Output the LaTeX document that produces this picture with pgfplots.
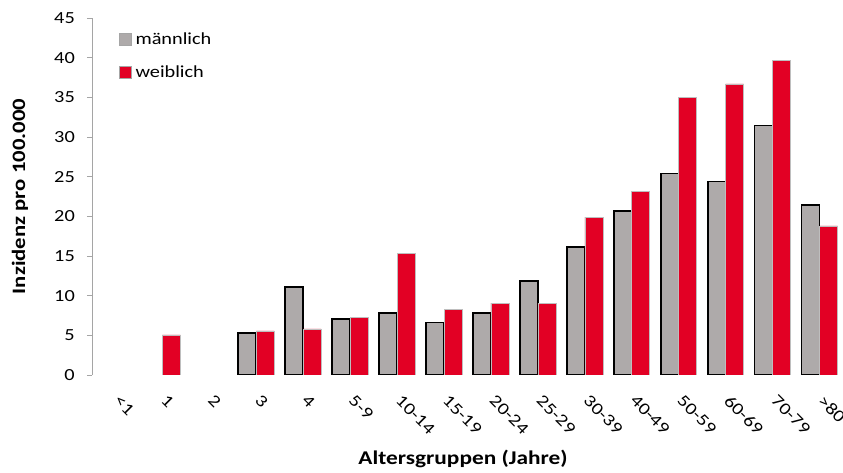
\documentclass[border=0pt]{standalone}
\usepackage{fontspec}
\setmainfont{Carlito}[FakeStretch=1.2]
\usepackage{pgfplots}
\pgfplotsset{compat=1.18}
\definecolor{mgray}{RGB}{174,170,170}
\definecolor{fred}{RGB}{226,0,36}
\definecolor{axgray}{RGB}{165,165,165}
\definecolor{edgegray}{RGB}{190,190,190}
\begin{document}
\begin{tikzpicture}
\begin{axis}[
  scale only axis, width=751bp, height=357bp,
  xmin=-0.5, xmax=15.5, ymin=0, ymax=45,
  ybar=0pt, bar width=18bp,
  axis y line*=left, axis x line*=bottom,
  x axis line style={draw=none},
  y axis line style={axgray, line width=0.8pt, -},
  xtick={0,...,15},
  xticklabels={<1,1,2,3,4,5-9,10-14,15-19,20-24,25-29,30-39,40-49,50-59,60-69,70-79,>80},
  xtick style={draw=none},
  ytick={0,5,...,45},
  ytick style={axgray, line width=0.8pt},
  tick align=outside, major tick length=5bp,
  /pgf/number format/assume math mode=true,
  yticklabel style={font=\fontsize{17}{20}\selectfont, inner sep=2bp, xshift=-10bp},
  xticklabel style={font=\fontsize{17}{20}\selectfont, xshift=5.5bp, yshift=-12.5bp, rotate=-45, anchor=north west, inner sep=1bp},
  xlabel={Altersgruppen (Jahre)},
  xlabel style={font=\bfseries\fontsize{19.5}{22}\selectfont, at={(axis description cs:0.494,-0.235)}, anchor=center},
  ylabel={Inzidenz pro 100.000},
  ylabel style={font=\bfseries\fontsize{19}{22}\selectfont, at={(axis description cs:-0.096,0.5)}, anchor=center},
  legend style={at={(axis description cs:0.032,0.968)}, anchor=north west, draw=none, fill=none,
    font=\fontsize{17}{20}\selectfont, row sep=18bp, nodes={inner sep=1bp}},
  legend cell align=left,
]
\addplot[fill=mgray, draw=black, line width=1.7bp,
  legend image code/.code={\draw[fill=mgray, draw=axgray, line width=0.6bp] (0bp,-6bp) rectangle (12bp,6bp); \path[draw=none, fill=none] (0bp,0bp) -- (15bp,0bp);}]
  coordinates {(3,5.3) (4,11.1) (5,7.05) (6,7.85) (7,6.6) (8,7.85) (9,11.85) (10,16.1) (11,20.7) (12,25.4) (13,24.4) (14,31.45) (15,21.4)};
\addlegendentry{männlich}
\addplot[fill=fred, draw=edgegray, line width=0.6bp,
  legend image code/.code={\draw[fill=fred, draw=axgray, line width=0.6bp] (0bp,-6bp) rectangle (12bp,6bp); \path[draw=none, fill=none] (0bp,0bp) -- (15bp,0bp);}]
  coordinates {(1,5.05) (3,5.55) (4,5.8) (5,7.3) (6,15.35) (7,8.3) (8,9.05) (9,9.05) (10,19.9) (11,23.1) (12,35.0) (13,36.7) (14,39.7) (15,18.8)};
\addlegendentry{weiblich}
\end{axis}
\pgfresetboundingbox
\path[use as bounding box] ([xshift=-92bp,yshift=-98bp]current axis.south west) rectangle ([yshift=18bp]current axis.north east);
\end{tikzpicture}
\end{document}
